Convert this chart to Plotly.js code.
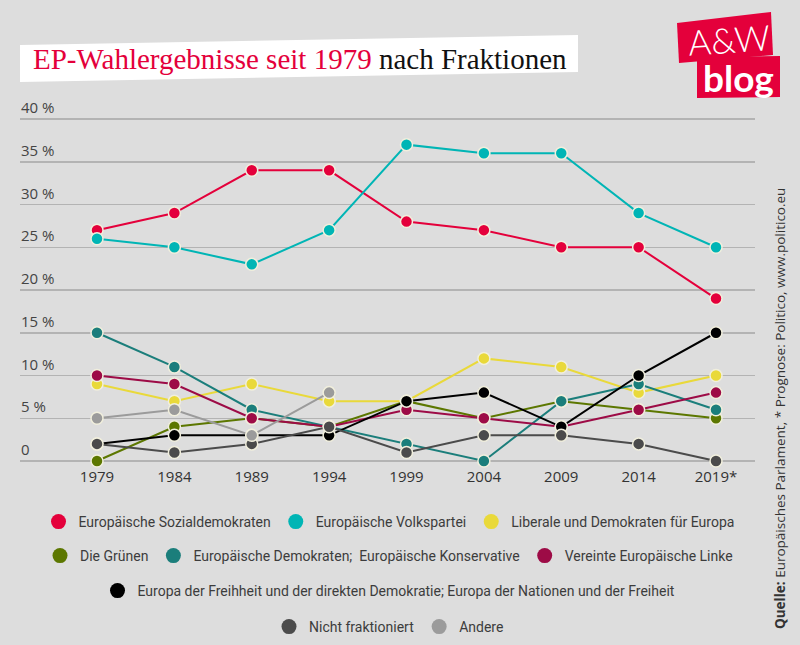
<!DOCTYPE html>
<html>
<head>
<meta charset="utf-8">
<script src="https://cdn.plot.ly/plotly-3.0.1.min.js"></script>
<style>
html,body{margin:0;padding:0;background:#dddddd;}
#chart{width:800px;height:645px;}
</style>
</head>
<body>
<div id="chart"></div>
<script>
// ---------- DATA ----------
const years = [1979, 1984, 1989, 1994, 1999, 2004, 2009, 2014, 2019];
const yearLabels = ['1979', '1984', '1989', '1994', '1999', '2004', '2009', '2014', '2019*'];

const sozialdemokraten = [27, 29, 34, 34, 28, 27, 25, 25, 19];
const volkspartei      = [26, 25, 23, 27, 37, 36, 36, 29, 25];
const liberale         = [9, 7, 9, 7, 7, 12, 11, 8, 10];
const gruene           = [0, 4, 5, 4, 7, 5, 7, 6, 5];
const demokratenKons   = [15, 11, 6, 4, 2, 0, 7, 9, 6];
const linke            = [10, 9, 5, 4, 6, 5, 4, 6, 8];
const freiheit         = [2, 3, 3, 3, 7, 8, 4, 10, 15];
const nichtFrakt       = [2, 1, 2, 4, 1, 3, 3, 2, 0];
const andere           = [5, 6, 3, 8, null, null, null, null, null];

const seriesNames = [
  'Europäische Sozialdemokraten',
  'Europäische Volkspartei',
  'Liberale und Demokraten für Europa',
  'Die Grünen',
  'Europäische Demokraten;  Europäische Konservative',
  'Vereinte Europäische Linke',
  'Europa der Freihheit und der direkten Demokratie; Europa der Nationen und der Freiheit',
  'Nicht fraktioniert',
  'Andere'
];
const seriesValues = [sozialdemokraten, volkspartei, liberale, gruene, demokratenKons, linke, freiheit, nichtFrakt, andere];
const seriesColors = ['#e4003b', '#00b5b5', '#e9d93a', '#5c7700', '#1b7e7b', '#9d0b46', '#000000', '#4b4b4b', '#9b9b9b'];
const legendRows = ['legend', 'legend', 'legend', 'legend2', 'legend2', 'legend2', 'legend3', 'legend4', 'legend4'];

const yTickVals = [0, 5, 10, 15, 20, 25, 30, 35, 40];
const yTickText = ['0', '5 %', '10 %', '15 %', '20 %', '25 %', '30 %', '35 %', '40 %'];

const titleRed = 'EP-Wahlergebnisse seit 1979';
const titleBlack = 'nach Fraktionen';
const sourceText = '<b>Quelle:</b> Europäisches Parlament, * Prognose: Politico, www.politico.eu';

// ---------- LAYOUT HELPERS ----------
const W = 800, H = 645, L = 20, R = 755, T = 100, B = 466;
const px = p => (p - L) / (R - L);
const py = p => (B - p) / (B - T);
const cx = p => p / W;
const cy = p => 1 - p / H;
const poly = pts => 'M' + pts.map(p => px(p[0]) + ',' + py(p[1])).join(' L') + ' Z';

const traces = [];
seriesValues.forEach((vals, i) => {
  traces.push({
    type: 'scatter', mode: 'lines+markers',
    x: years, y: vals, name: seriesNames[i],
    showlegend: false, cliponaxis: false, hoverinfo: 'skip',
    line: {color: seriesColors[i], width: 2},
    marker: {color: seriesColors[i], size: 12, line: {color: '#f1efdd', width: 1.5}}
  });
});
seriesValues.forEach((vals, i) => {
  traces.push({
    type: 'scatter', mode: 'markers',
    x: [null], y: [null], name: seriesNames[i],
    legend: legendRows[i], showlegend: true,
    marker: {color: seriesColors[i], size: 15, line: {width: 0}}
  });
});

const legendBase = {
  orientation: 'h', xanchor: 'center', yanchor: 'middle', x: cx(389),
  xref: 'container', yref: 'container',
  bgcolor: 'rgba(0,0,0,0)', itemsizing: 'trace', itemclick: false,
  font: {family: 'Roboto', size: 14, color: '#3c3c3c'}, tracegroupgap: 0
};

const yLabelAnnotations = yTickVals.map((v, i) => ({
  xref: 'paper', yref: 'y', x: 0, y: v, xanchor: 'left', yanchor: 'bottom',
  showarrow: false, text: yTickText[i], borderpad: 0, yshift: 1,
  font: {family: 'Open Sans', size: 15, color: '#444444'}
}));

const layout = {
  width: W, height: H,
  paper_bgcolor: '#dddddd', plot_bgcolor: '#dddddd',
  margin: {l: L, r: W - R, t: T, b: H - B, pad: 0},
  xaxis: {
    range: [1979 - (97 - L) / 15.475, 2019 + (R - 716) / 15.475],
    tickvals: years, ticktext: yearLabels,
    showgrid: false, zeroline: false, showline: false, ticks: '',
    tickfont: {family: 'Open Sans', size: 15, color: '#333333'}
  },
  yaxis: {
    range: [-(B - 461) / 8.55, 40 + (119 - T) / 8.55],
    tickvals: yTickVals, showticklabels: false,
    showgrid: true, gridcolor: '#b3b3b3', gridwidth: 1.5,
    zeroline: false, showline: false, ticks: ''
  },
  legend: Object.assign({}, legendBase, {y: cy(522)}),
  legend2: Object.assign({}, legendBase, {y: cy(556)}),
  legend3: Object.assign({}, legendBase, {y: cy(591)}),
  legend4: Object.assign({}, legendBase, {y: cy(627)}),
  shapes: [
    {type: 'path', xref: 'paper', yref: 'paper', path: poly([[20, 45], [578, 35], [578, 72], [20, 82]]),
     fillcolor: '#ffffff', line: {width: 0}, layer: 'below'},
    {type: 'path', xref: 'paper', yref: 'paper', path: poly([[677, 23], [771, 12], [773, 55], [679, 63]]),
     fillcolor: '#e4003b', line: {width: 0}},
    {type: 'path', xref: 'paper', yref: 'paper', path: poly([[697, 57], [780, 56], [780, 97], [697, 98]]),
     fillcolor: '#e4003b', line: {width: 0}}
  ],
  annotations: yLabelAnnotations.concat([
    {xref: 'paper', yref: 'paper', x: px(31), y: py(59), xanchor: 'left', yanchor: 'middle', showarrow: false,
     text: '<span style="color:#e4003b">' + titleRed + '</span> ' + titleBlack,
     font: {family: 'Liberation Serif', size: 29, color: '#111111'}},
    {xref: 'paper', yref: 'paper', x: px(729), y: py(39), xanchor: 'center', yanchor: 'middle', showarrow: false,
     text: 'A&amp;W', textangle: -4,
     font: {family: 'Lato', size: 35, color: '#ffffff', weight: 300}},
    {xref: 'paper', yref: 'paper', x: px(738), y: py(77), xanchor: 'center', yanchor: 'middle', showarrow: false,
     text: '<b>blog</b>',
     font: {family: 'Lato', size: 37, color: '#ffffff'}},
    {xref: 'paper', yref: 'paper', x: px(780), y: py(409), xanchor: 'center', yanchor: 'middle', showarrow: false,
     text: sourceText, textangle: -90,
     font: {family: 'Open Sans', size: 13.5, color: '#333333'}}
  ])
};

Plotly.newPlot('chart', traces, layout, {displayModeBar: false, staticPlot: true});
</script>
</body>
</html>
